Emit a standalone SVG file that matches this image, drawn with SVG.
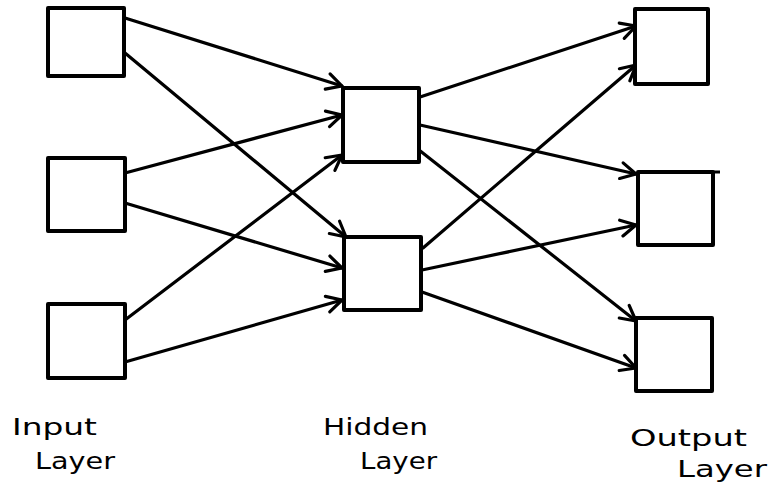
<svg xmlns="http://www.w3.org/2000/svg" width="771" height="487" viewBox="0 0 771 487">
<style>
.box{fill:#fff;stroke:#000;stroke-width:4;stroke-linejoin:round}
.c{fill:none;stroke:#000;stroke-width:3.2;stroke-linecap:round}
.lbl{font-family:"DejaVu Sans","Liberation Sans",sans-serif;font-size:23px;fill:#000}
</style>
<defs>
<marker id="arr" viewBox="-18 -10 20 20" markerWidth="20" markerHeight="20" refX="0" refY="0" orient="auto" markerUnits="userSpaceOnUse">
<path d="M-15,-8 L0,0 L-15,8" fill="none" stroke="#000" stroke-width="3.2" stroke-linecap="round" stroke-linejoin="round"/>
</marker>
</defs>
<rect width="771" height="487" fill="#fff"/>
<g id="connectors">
<line class="c" x1="125" y1="18" x2="342" y2="86" marker-end="url(#arr)"/>
<line class="c" x1="125" y1="53" x2="346" y2="237" marker-end="url(#arr)"/>
<line class="c" x1="125" y1="173" x2="342" y2="115" marker-end="url(#arr)"/>
<line class="c" x1="125" y1="203" x2="342" y2="268" marker-end="url(#arr)"/>
<line class="c" x1="125" y1="320" x2="342" y2="155" marker-end="url(#arr)"/>
<line class="c" x1="125" y1="362" x2="342" y2="300" marker-end="url(#arr)"/>
<line class="c" x1="420" y1="97" x2="636" y2="26" marker-end="url(#arr)"/>
<line class="c" x1="420" y1="125" x2="636" y2="174" marker-end="url(#arr)"/>
<line class="c" x1="419" y1="150" x2="636" y2="321" marker-end="url(#arr)"/>
<line class="c" x1="423" y1="248" x2="636" y2="65" marker-end="url(#arr)"/>
<line class="c" x1="422" y1="270" x2="636" y2="225" marker-end="url(#arr)"/>
<line class="c" x1="422" y1="292" x2="636" y2="368" marker-end="url(#arr)"/>
</g>
<g id="input1"><rect class="box" x="48" y="8" width="76" height="68"/></g>
<g id="input2"><rect class="box" x="48" y="158" width="77" height="73"/></g>
<g id="input3"><rect class="box" x="48" y="304" width="77" height="74"/></g>
<g id="hidden1"><rect class="box" x="343" y="88" width="76" height="74"/></g>
<g id="hidden2"><rect class="box" x="344" y="237" width="77" height="73"/></g>
<g id="output1"><rect class="box" x="635" y="9" width="73" height="75"/></g>
<g id="output2"><rect class="box" x="638" y="172" width="75" height="73"/><line x1="713" y1="172" x2="720" y2="172" stroke="#000" stroke-width="3"/></g>
<g id="output3"><rect class="box" x="636" y="318" width="76" height="73"/></g>
<g id="labels">
<text class="lbl" x="12" y="435" textLength="85" lengthAdjust="spacingAndGlyphs">Input</text>
<text class="lbl" x="35" y="469" textLength="80" lengthAdjust="spacingAndGlyphs">Layer</text>
<text class="lbl" x="323" y="435" textLength="105" lengthAdjust="spacingAndGlyphs">Hidden</text>
<text class="lbl" x="360" y="469" textLength="77" lengthAdjust="spacingAndGlyphs">Layer</text>
<text class="lbl" x="630" y="446" textLength="117" lengthAdjust="spacingAndGlyphs">Output</text>
<text class="lbl" x="677" y="477" textLength="90" lengthAdjust="spacingAndGlyphs">Layer</text>
</g>
</svg>
